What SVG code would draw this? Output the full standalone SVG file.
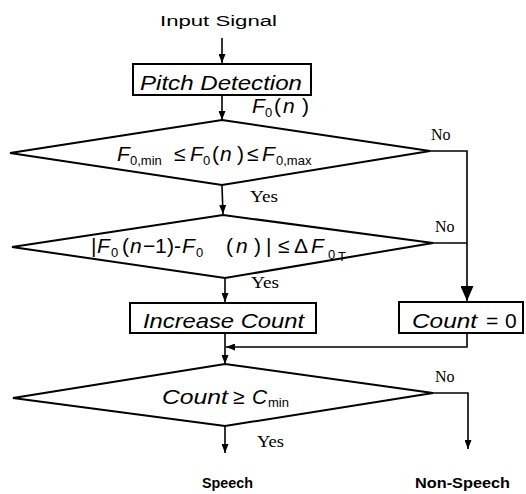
<svg xmlns="http://www.w3.org/2000/svg" width="526" height="494" viewBox="0 0 526 494">
<style>
.bg{fill:#fff}
.shape{fill:none;stroke:#000;stroke-width:2}
.conn{fill:none;stroke:#000;stroke-width:1.6}
.m{font-family:"Liberation Sans",Arial,sans-serif;font-size:21px;font-style:italic;fill:#000}
.u{font-style:normal}
.s{font-family:"Liberation Sans",Arial,sans-serif;font-size:13px;font-style:normal;fill:#000}
.lbl{font-family:"Liberation Serif","Times New Roman",serif;font-size:16px;fill:#000}
.io{font-family:"Liberation Sans",Arial,sans-serif;font-size:14px;fill:#000}
</style>
<defs>
<marker id="ah" markerUnits="userSpaceOnUse" markerWidth="9" markerHeight="7" refX="9" refY="3.5" orient="auto"><path d="M0,0 L9,3.5 L0,7 z" fill="#000"/></marker>
<marker id="ahL" markerUnits="userSpaceOnUse" markerWidth="15" markerHeight="13" refX="15" refY="6.5" orient="auto"><path d="M0,0 L15,6.5 L0,13 z" fill="#000"/></marker>
</defs>
<rect class="bg" x="0" y="0" width="526" height="494"/>

<g id="input">
<text class="io" x="160" y="26" textLength="117" lengthAdjust="spacingAndGlyphs">Input  Signal</text>
</g>

<g id="pitch">
<rect class="shape" x="133" y="64" width="178" height="31"/>
<text class="m" x="140" y="90" textLength="162" lengthAdjust="spacingAndGlyphs">Pitch Detection</text>
</g>

<g id="f0label">
<text class="m" y="113"><tspan x="252">F</tspan><tspan class="s" x="265" y="117">0</tspan><tspan class="u" x="274" y="113">(</tspan><tspan x="283" y="113">n</tspan><tspan class="u" x="302" y="113">)</tspan></text>
</g>

<g id="cond1">
<polygon class="shape" points="222,120 430,151 222,185 10,153"/>
<text class="m" y="161"><tspan x="117">F</tspan><tspan class="s" x="130" y="165">0,min</tspan><tspan class="u" x="174" y="161">≤</tspan><tspan x="190" y="161">F</tspan><tspan class="s" x="203" y="165">0</tspan><tspan class="u" x="212" y="161">(</tspan><tspan x="220" y="161">n</tspan><tspan class="u" x="237" y="161">)</tspan><tspan class="u" x="247" y="161">≤</tspan><tspan x="262" y="161">F</tspan><tspan class="s" x="276" y="165">0,max</tspan></text>
</g>

<g id="cond2">
<polygon class="shape" points="223,215 433,243 225,278 12,247"/>
<text class="m" y="253"><tspan class="u" x="91">|</tspan><tspan x="97" y="253">F</tspan><tspan class="s" x="111" y="257">0</tspan><tspan class="u" x="122" y="253">(</tspan><tspan x="130" y="253">n</tspan><tspan class="u" x="143" y="253">−</tspan><tspan class="u" x="155" y="253">1</tspan><tspan class="u" x="167" y="253">)</tspan><tspan class="u" x="174" y="253">-</tspan><tspan x="182" y="253">F</tspan><tspan class="s" x="196" y="257">0</tspan><tspan class="u" x="226" y="253">(</tspan><tspan x="236" y="253">n</tspan><tspan class="u" x="254" y="253">)</tspan><tspan class="u" x="266" y="253">|</tspan><tspan class="u" x="278" y="253">≤</tspan><tspan class="u" x="294" y="253">Δ</tspan><tspan x="311" y="253">F</tspan><tspan class="s" x="328" y="259">0</tspan><tspan class="s" x="338" y="261" font-style="italic">T</tspan></text>
</g>

<g id="increase">
<rect class="shape" x="130" y="303" width="186" height="30"/>
<text class="m" x="143" y="328" textLength="161" lengthAdjust="spacingAndGlyphs">Increase Count</text>
</g>

<g id="reset">
<rect class="shape" x="399" y="302" width="124" height="31"/>
<text class="m" x="412" y="328" textLength="65" lengthAdjust="spacingAndGlyphs">Count</text>
<text class="m u" x="486" y="328">=</text>
<text class="m u" x="505" y="328">0</text>
</g>

<g id="cond3">
<polygon class="shape" points="225,364 433,393 225,426 13,398"/>
<text class="m" x="162" y="404" textLength="66" lengthAdjust="spacingAndGlyphs">Count</text>
<text class="m u" x="233" y="404">≥</text>
<text class="m" x="252" y="404">C</text>
<text class="s" x="268" y="407">min</text>
</g>

<g id="speech">
<text class="io" x="202" y="488" font-weight="bold" textLength="51" lengthAdjust="spacingAndGlyphs">Speech</text>
</g>

<g id="nonspeech">
<text class="io" x="415" y="488" font-weight="bold" textLength="95" lengthAdjust="spacingAndGlyphs">Non-Speech</text>
</g>

<g id="connectors">
<line class="conn" x1="222" y1="38" x2="222" y2="63" marker-end="url(#ah)"/>
<line class="conn" x1="222" y1="96" x2="222" y2="120" marker-end="url(#ah)"/>
<line class="conn" x1="222" y1="186" x2="223" y2="214" marker-end="url(#ah)"/>
<line class="conn" x1="225" y1="279" x2="225" y2="302" marker-end="url(#ah)"/>
<polyline class="conn" points="430,151 467,151 467,301" marker-end="url(#ahL)"/>
<line class="conn" x1="433" y1="243" x2="467" y2="243"/>
<polyline class="conn" points="467,334 467,347 226,347" marker-end="url(#ah)"/>
<line class="conn" x1="225" y1="334" x2="225" y2="364" marker-end="url(#ah)"/>
<line class="conn" x1="225" y1="427" x2="225" y2="453" marker-end="url(#ah)"/>
<polyline class="conn" points="433,393 468,393 468,449" marker-end="url(#ah)"/>
<text class="lbl" x="250" y="202" textLength="28" lengthAdjust="spacingAndGlyphs">Yes</text>
<text class="lbl" x="251" y="288" textLength="28" lengthAdjust="spacingAndGlyphs">Yes</text>
<text class="lbl" x="257" y="447" textLength="27" lengthAdjust="spacingAndGlyphs">Yes</text>
<text class="lbl" x="431" y="140">No</text>
<text class="lbl" x="435" y="232">No</text>
<text class="lbl" x="435" y="382">No</text>
</g>
</svg>
